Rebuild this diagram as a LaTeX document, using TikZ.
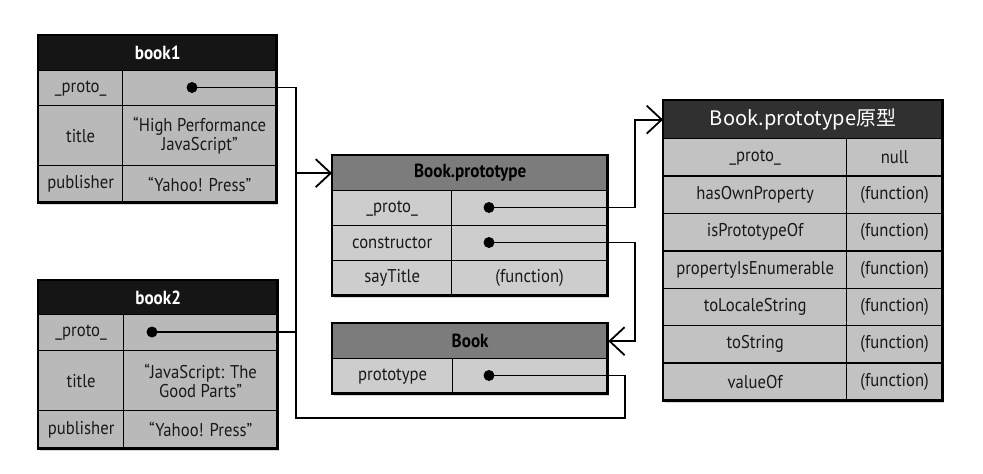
\documentclass[tikz,border=0pt]{standalone}
\usepackage{fontspec}
\setmainfont{PT Sans}[FakeStretch=0.9]
\newfontfamily\cjk{Noto Sans CJK SC}
\usetikzlibrary{arrows.meta,shadows}

\definecolor{cellgray}{HTML}{B9B9B9}
\definecolor{lightcell}{HTML}{CDCDCD}
\definecolor{midhead}{HTML}{7C7C7C}
\definecolor{darkhead}{HTML}{151515}
\definecolor{rthead}{HTML}{303030}
\definecolor{rtcell}{HTML}{C2C2C2}

\tikzset{
  cell/.style={draw, line width=1.3pt, inner sep=0pt, anchor=north west,
    align=center, text=black!90, font=\fontsize{18.5}{19}\selectfont},
  hdr/.style={cell, fill=darkhead, text=white, font=\fontsize{19}{20}\selectfont\bfseries},
  tablebox/.style={fill=white, inner sep=0pt, anchor=north west,
    drop shadow={shadow xshift=2pt, shadow yshift=-3pt, opacity=0.3}},
  outer/.style={draw, line width=2.2pt},
  dot/.style={circle, fill=black, inner sep=0pt, minimum size=11pt},
  wire/.style={line width=1.8pt},
  tip/.style={-{Straight Barb[length=15pt, width=28pt]}}
}

\begin{document}
\begin{tikzpicture}[x=1pt, y=-1pt]
  \useasboundingbox (0,0) rectangle (983,474);
  \fill[white] (0,0) rectangle (983,474);

  % book1
  \node[tablebox, minimum width=238pt, minimum height=167pt] (book1) at (38,35) {};
  \node[hdr, minimum width=238pt, minimum height=35pt] (b1head) at (38,35) {book1};
  \node[cell, fill=cellgray, minimum width=84pt, minimum height=35pt] (b1k1) at (38,70) {\_proto\_};
  \node[cell, fill=cellgray, minimum width=154pt, minimum height=35pt] (b1v1) at (122,70) {};
  \node[cell, fill=cellgray, minimum width=84pt, minimum height=60pt] (b1k2) at (38,105) {title};
  \node[cell, fill=cellgray, minimum width=154pt, minimum height=60pt] (b1v2) at (122,105) {“High Performance\\JavaScript”};
  \node[cell, fill=cellgray, minimum width=84pt, minimum height=37pt] (b1k3) at (38,165) {publisher};
  \node[cell, fill=cellgray, minimum width=154pt, minimum height=37pt] (b1v3) at (122,165) {“Yahoo! Press”};
  \draw[outer] (book1.north west) rectangle (book1.south east);
  \node[dot] (b1dot) at (192,87.5) {};

  % book2
  \node[tablebox, minimum width=239pt, minimum height=168pt] (book2) at (38,280) {};
  \node[hdr, minimum width=239pt, minimum height=34pt] (b2head) at (38,280) {book2};
  \node[cell, fill=cellgray, minimum width=85pt, minimum height=36pt] (b2k1) at (38,314) {\_proto\_};
  \node[cell, fill=cellgray, minimum width=154pt, minimum height=36pt] (b2v1) at (123,314) {};
  \node[cell, fill=cellgray, minimum width=85pt, minimum height=60pt] (b2k2) at (38,350) {title};
  \node[cell, fill=cellgray, minimum width=154pt, minimum height=60pt] (b2v2) at (123,350) {“JavaScript: The\\Good Parts”};
  \node[cell, fill=cellgray, minimum width=85pt, minimum height=38pt] (b2k3) at (38,410) {publisher};
  \node[cell, fill=cellgray, minimum width=154pt, minimum height=38pt] (b2v3) at (123,410) {“Yahoo! Press”};
  \draw[outer] (book2.north west) rectangle (book2.south east);
  \node[dot] (b2dot) at (152,332) {};

  % Book.prototype
  \node[tablebox, minimum width=275pt, minimum height=140pt] (bproto) at (332,155) {};
  \node[hdr, fill=midhead, text=black, minimum width=275pt, minimum height=35pt] (bphead) at (332,155) {Book.prototype};
  \node[cell, fill=lightcell, minimum width=119pt, minimum height=35pt] (bpk1) at (332,190) {\_proto\_};
  \node[cell, fill=lightcell, minimum width=156pt, minimum height=35pt] (bpv1) at (451,190) {};
  \node[cell, fill=lightcell, minimum width=119pt, minimum height=35pt] (bpk2) at (332,225) {constructor};
  \node[cell, fill=lightcell, minimum width=156pt, minimum height=35pt] (bpv2) at (451,225) {};
  \node[cell, fill=lightcell, minimum width=119pt, minimum height=35pt] (bpk3) at (332,260) {sayTitle};
  \node[cell, fill=lightcell, minimum width=156pt, minimum height=35pt] (bpv3) at (451,260) {(function)};
  \draw[outer] (bproto.north west) rectangle (bproto.south east);
  \node[dot] (bpdot1) at (489,207.5) {};
  \node[dot] (bpdot2) at (489,242.5) {};

  % Book
  \node[tablebox, minimum width=275pt, minimum height=70pt] (book) at (332,323) {};
  \node[hdr, fill=midhead, text=black, minimum width=275pt, minimum height=35pt] (bkhead) at (332,323) {Book};
  \node[cell, fill=lightcell, minimum width=120pt, minimum height=35pt] (bkk1) at (332,358) {prototype};
  \node[cell, fill=lightcell, minimum width=155pt, minimum height=35pt] (bkv1) at (452,358) {};
  \draw[outer] (book.north west) rectangle (book.south east);
  \node[dot] (bkdot) at (489,375.5) {};

  % Book.prototype原型
  \node[tablebox, minimum width=279pt, minimum height=300pt] (objproto) at (663,100) {};
  \node[hdr, fill=rthead, font=\fontsize{20}{21}\selectfont\cjk, minimum width=279pt, minimum height=38pt] (rthead) at (663,100) {Book.prototype原型};
  \node[cell, fill=rtcell, minimum width=183pt, minimum height=37.4pt] (rtk0) at (663,138) {\_proto\_};
  \node[cell, fill=rtcell, minimum width=96pt, minimum height=37.4pt] (rtv0) at (846,138) {null};
  \foreach \k [count=\i] in {hasOwnProperty, isPrototypeOf, propertyIsEnumerable,
                           toLocaleString, toString, valueOf} {
    \node[cell, fill=rtcell, minimum width=183pt, minimum height=37.4pt] (rtk\i) at (663,{138+37.4*\i}) {\k};
    \node[cell, fill=rtcell, minimum width=96pt, minimum height=37.4pt] (rtv\i) at (846,{138+37.4*\i}) {(function)};
  }
  \draw[outer] (objproto.north west) rectangle (objproto.south east);

  % connectors
  \coordinate (busTop) at (296,87.5);
  \coordinate (busLow) at (296,418);
  \coordinate (loopLow) at (625,418);
  \coordinate (hook) at (635,0);

  \draw[wire] (b1dot.center) -- (busTop) -- (busLow) -- (loopLow) |- (bkdot.center);
  \draw[wire] (b2dot.center) -- (b2dot -| busTop);
  \draw[wire, tip] (bphead.west -| busTop) -- (bphead.west);
  \draw[wire, tip] (bpdot1.center) -| (hook |- rthead.west) -- (rthead.west);
  \draw[wire, tip] (bpdot2.center) -| (hook |- bkhead.east) -- (bkhead.east);
\end{tikzpicture}
\end{document}
